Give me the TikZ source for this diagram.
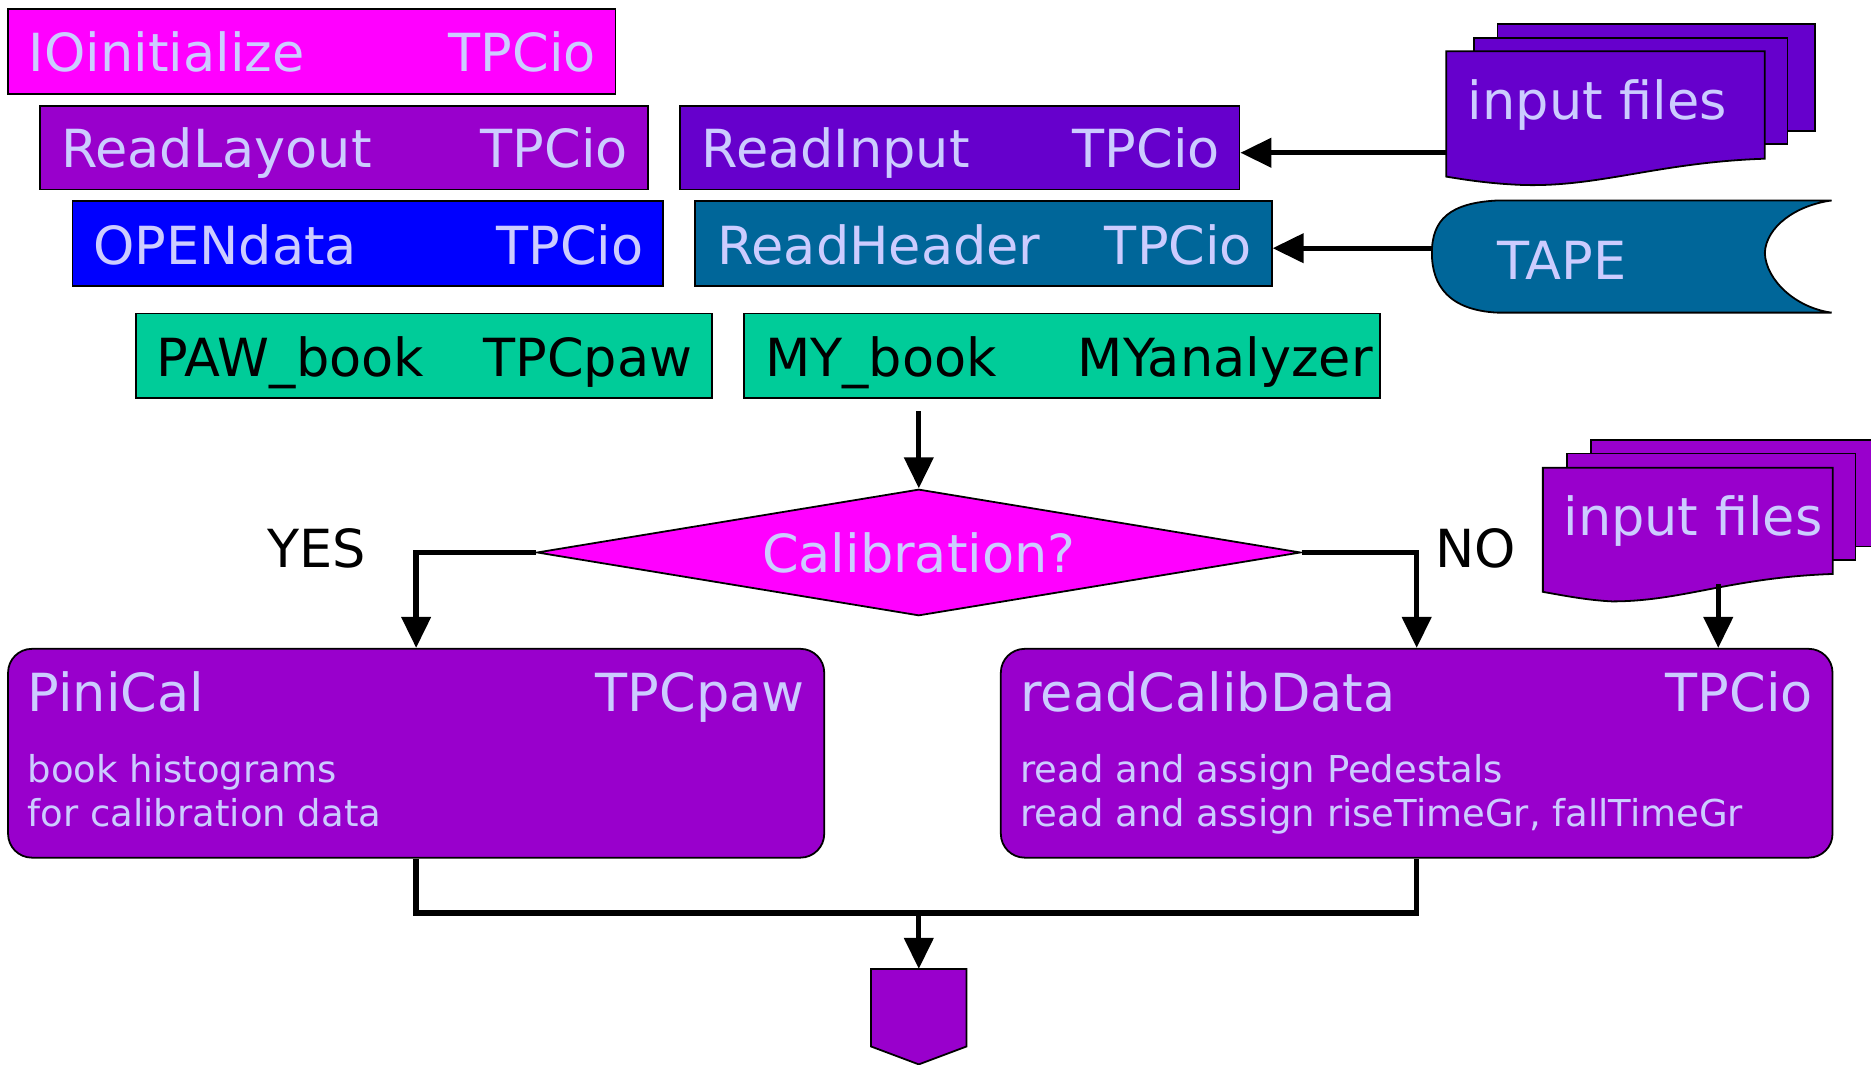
\documentclass[tikz,border=0pt]{standalone}
\usepackage{fontspec}
\setmainfont{DejaVu Sans}
\usetikzlibrary{arrows.meta,calc,shapes.geometric}
\definecolor{magentaF}{HTML}{FF00FF}
\definecolor{purpleF}{HTML}{9900CC}
\definecolor{violetF}{HTML}{6600CC}
\definecolor{blueF}{HTML}{0000FF}
\definecolor{tealF}{HTML}{006699}
\definecolor{greenF}{HTML}{00CC99}
\definecolor{lilac}{HTML}{CCCCFF}
\begin{document}
\begin{tikzpicture}[x=1pt,y=-1pt,
  box/.style={draw=black, line width=1.5pt, anchor=north west, inner sep=0pt},
  bigtxt/.style={font=\fontsize{44}{50}\selectfont, text=lilac, inner sep=0pt},
  smalltxt/.style={font=\fontsize{31}{37}\selectfont, text=lilac, inner sep=0pt},
  sheet/.style={draw=black, line width=1.5pt},
  conn/.style={line width=4.5pt},
  arr/.style={conn, -{Triangle[length=26pt,width=24pt]}}]

\useasboundingbox (0,0) rectangle (1568,892);
\fill[white] (0,0) rectangle (1568,892);
\clip (0,0) rectangle (1568,892);

% ---- routine boxes: name on the left, package on the right
\node[box, fill=magentaF, minimum width=509pt, minimum height=71pt] (ioinit) at (6,7) {};
\node[bigtxt, anchor=base west] (ioinit-name) at ([shift={(18,17)}]ioinit.west) {IOinitialize};
\node[bigtxt, anchor=base east] (ioinit-mod) at ([shift={(-17,17)}]ioinit.east) {TPCio};

\node[box, fill=purpleF, minimum width=509pt, minimum height=70pt] (readlayout) at (33,88) {};
\node[bigtxt, anchor=base west] (readlayout-name) at ([shift={(18,17)}]readlayout.west) {ReadLayout};
\node[bigtxt, anchor=base east] (readlayout-mod) at ([shift={(-17,17)}]readlayout.east) {TPCio};

\node[box, fill=blueF, minimum width=495pt, minimum height=71pt] (opendata) at (60,168) {};
\node[bigtxt, anchor=base west] (opendata-name) at ([shift={(18,17)}]opendata.west) {OPENdata};
\node[bigtxt, anchor=base east] (opendata-mod) at ([shift={(-17,17)}]opendata.east) {TPCio};

\node[box, fill=violetF, minimum width=469pt, minimum height=70pt] (readinput) at (569,88) {};
\node[bigtxt, anchor=base west] (readinput-name) at ([shift={(19,17)}]readinput.west) {ReadInput};
\node[bigtxt, anchor=base east] (readinput-mod) at ([shift={(-17,17)}]readinput.east) {TPCio};

\node[box, fill=tealF, minimum width=483pt, minimum height=71pt] (readheader) at (582,168) {};
\node[bigtxt, anchor=base west] (readheader-name) at ([shift={(19,17)}]readheader.west) {ReadHeader};
\node[bigtxt, anchor=base east] (readheader-mod) at ([shift={(-17,17)}]readheader.east) {TPCio};

\node[box, fill=greenF, minimum width=483pt, minimum height=71pt] (pawbook) at (113,262) {};
\node[bigtxt, text=black, anchor=base west] (pawbook-name) at ([shift={(18,17)}]pawbook.west) {PAW\_book};
\node[bigtxt, text=black, anchor=base east] (pawbook-mod) at ([shift={(-17,17)}]pawbook.east) {TPCpaw};

\node[box, fill=greenF, minimum width=533pt, minimum height=71pt] (mybook) at (623,262) {};
\node[bigtxt, text=black, anchor=base west] (mybook-name) at ([shift={(18,17)}]mybook.west) {MY\_book};
\node[bigtxt, text=black, anchor=base west] (mybook-mod) at ([shift={(280,17)}]mybook.west) {MYanalyzer};

% ---- input files (upper stack)
\path[sheet, fill=violetF] (1255,20) rectangle (1521,110);
\path[sheet, fill=violetF] (1235,32) rectangle (1498,121);
\path[sheet, fill=violetF] (1212,43) -- (1479,43) -- (1479,133)
  .. controls (1390,136) and (1340,157) .. (1276,155)
  .. controls (1250,154) and (1230,151) .. (1212,148) -- cycle;
\node[bigtxt, anchor=base west] (infilesA) at (1230,100) {input files};
\coordinate (infilesA-out) at (1212,128);

% ---- tape
\path[sheet, fill=tealF] (1255,168) -- (1535,168)
  .. controls (1505,172) and (1480,190) .. (1479,212)
  .. controls (1480,235) and (1505,258) .. (1535,262)
  -- (1255,262)
  .. controls (1215,260) and (1200,240) .. (1200,212)
  .. controls (1200,184) and (1215,170) .. (1255,168) -- cycle;
\node[bigtxt, anchor=base west] (tape) at (1255,234) {TAPE};
\coordinate (tape-out) at (1200,208);

% ---- decision
\node[diamond, draw=black, line width=1.5pt, fill=magentaF, aspect=6,
      minimum width=640pt, minimum height=106pt, bigtxt] (calib) at (770,463) {Calibration?};
\node[bigtxt, text=black, anchor=base west] (yes) at (224,476) {YES};
\node[bigtxt, text=black, anchor=base west] (no) at (1203,476) {NO};

% ---- input files (lower stack)
\path[sheet, fill=purpleF] (1333,369) rectangle (1590,458);
\path[sheet, fill=purpleF] (1313,380) rectangle (1555,469);
\path[sheet, fill=purpleF] (1293,392) -- (1536,392) -- (1536,481)
  .. controls (1450,484) and (1410,504) .. (1351,504)
  .. controls (1330,503) and (1310,499) .. (1293,496) -- cycle;
\node[bigtxt, anchor=base west] (infilesB) at (1310,449) {input files};
\coordinate (infilesB-out) at (1440,489);

% ---- branch routines
\node[box, rounded corners=20pt, fill=purpleF, minimum width=684pt, minimum height=175pt] (pinical) at (6,543) {};
\node[bigtxt, anchor=base west] (pinical-name) at ([shift={(17,53)}]pinical.north west) {PiniCal};
\node[bigtxt, anchor=base east] (pinical-mod) at ([shift={(-17,53)}]pinical.north east) {TPCpaw};
\node[smalltxt, anchor=base west] (pinical-l1) at ([shift={(17,113)}]pinical.north west) {book histograms};
\node[smalltxt, anchor=base west] (pinical-l2) at ([shift={(17,150)}]pinical.north west) {for calibration data};

\node[box, rounded corners=20pt, fill=purpleF, minimum width=697pt, minimum height=175pt] (readcalib) at (838,543) {};
\node[bigtxt, anchor=base west] (readcalib-name) at ([shift={(17,53)}]readcalib.north west) {readCalibData};
\node[bigtxt, anchor=base east] (readcalib-mod) at ([shift={(-17,53)}]readcalib.north east) {TPCio};
\node[smalltxt, anchor=base west] (readcalib-l1) at ([shift={(17,113)}]readcalib.north west) {read and assign Pedestals};
\node[smalltxt, anchor=base west] (readcalib-l2) at ([shift={(17,150)}]readcalib.north west) {read and assign riseTimeGr, fallTimeGr};

% ---- continuation mark
\path[sheet, fill=purpleF] (730,812) -- (810,812) -- (810,877) -- (770,892) -- (730,877) -- cycle;
\coordinate (exit) at (770,812);
\coordinate (merge) at (770,765);

% ---- connectors
\draw[arr] (infilesA-out) -- (infilesA-out -| readinput.east);
\draw[arr] (tape-out) -- (tape-out -| readheader.east);
\draw[arr] ($(calib.north |- mybook.south)+(0,10)$) -- (calib.north);
\draw[arr] (calib.west) -| (pinical.north);
\draw[arr] (calib.east) -| (readcalib.north);
\draw[arr] (infilesB-out) -- (infilesB-out |- readcalib.north);
\draw[conn] (pinical.south) |- (merge) -| (readcalib.south);
\draw[arr] (merge) -- (exit);
\end{tikzpicture}
\end{document}
